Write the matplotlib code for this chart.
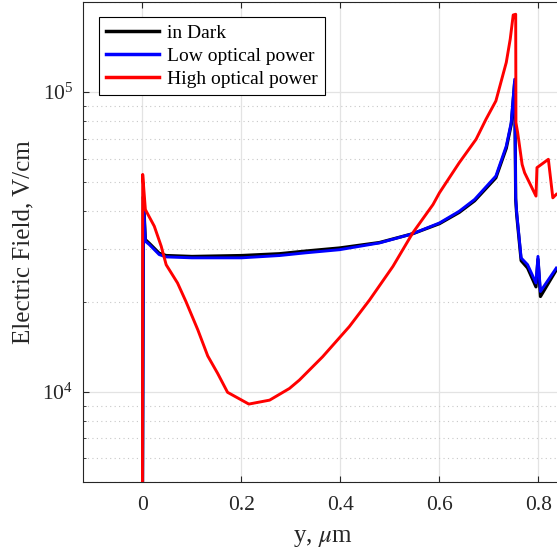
import numpy as np
import matplotlib
matplotlib.use('Agg')
import matplotlib.pyplot as plt

plt.rcParams['font.family'] = ['Liberation Serif', 'DejaVu Serif']
plt.rcParams['mathtext.fontset'] = 'stix'

# data (y in um, field in V/cm)
y_dark = [0.0, 0.002, 0.006, 0.014, 0.034, 0.048, 0.1, 0.2, 0.277, 0.33, 0.398, 0.479,
          0.546, 0.6, 0.640, 0.671, 0.714, 0.735, 0.745, 0.752, 0.754, 0.756, 0.765,
          0.778, 0.795, 0.799, 0.804, 0.836]
e_dark = [3000, 44800, 32200, 31300, 29000, 28500, 28300, 28500, 28900, 29500, 30200, 31500,
          33700, 36400, 39700, 43400, 51800, 65000, 78000, 108000, 43800, 39000, 27400,
          25900, 22400, 27700, 20800, 25500]

y_low = [0.0, 0.002, 0.006, 0.014, 0.034, 0.048, 0.1, 0.2, 0.277, 0.33, 0.398, 0.479,
         0.546, 0.6, 0.640, 0.671, 0.714, 0.735, 0.745, 0.752, 0.754, 0.756, 0.765,
         0.778, 0.795, 0.799, 0.804, 0.836]
e_low = [3000, 44400, 31800, 31000, 28700, 28200, 28000, 28000, 28500, 29100, 29800, 31400,
         33700, 36600, 40050, 43850, 52500, 66100, 79200, 110500, 44400, 39700, 27970,
         26560, 23070, 28310, 21620, 25880]

y_high = [0.0, 0.0006, 0.006, 0.024, 0.038, 0.048, 0.071, 0.088, 0.112, 0.132, 0.152,
          0.172, 0.215, 0.257, 0.297, 0.317, 0.364, 0.418, 0.459, 0.506, 0.546, 0.587,
          0.6, 0.640, 0.674, 0.694, 0.714, 0.735, 0.743, 0.749, 0.754, 0.7545, 0.758,
          0.767, 0.772, 0.795, 0.797, 0.820, 0.829, 0.836]
e_high = [3000, 53150, 40560, 35700, 30600, 26550, 23070, 20000, 16090, 13170, 11520,
          9960, 9100, 9380, 10260, 10940, 13090, 16510, 20270, 26210, 33900, 42170,
          46150, 58160, 69640, 81200, 93500, 125700, 150500, 181000, 182000, 79100, 73260,
          57380, 53850, 45000, 56000, 59700, 44400, 45600]

labels = ['in Dark', 'Low optical power', 'High optical power']

fig = plt.figure(figsize=(5.57, 5.53), dpi=100)
ax = fig.add_axes([0.149, 0.1284, 0.9066, 0.868])

ax.plot(y_dark, e_dark, color='black', lw=2.3, label=labels[0])
ax.plot(y_low, e_low, color='blue', lw=2.1, label=labels[1])
ax.plot(y_high, e_high, color='red', lw=2.1, label=labels[2])

ax.set_yscale('log')
ax.set_xlim(-0.12, 0.9)
ax.set_ylim(5e3, 2e5)
ax.set_xticks([0, 0.2, 0.4, 0.6, 0.8])
ax.set_xticklabels(['0', '0.2', '0.4', '0.6', '0.8'])

ax.grid(True, which='major', color='#e3e3e3', lw=0.9, ls='-')
ax.grid(True, which='minor', axis='y', color='#c8c8c8', lw=0.8, ls=(0, (1, 3)))
ax.set_axisbelow(True)

ax.tick_params(which='both', direction='in', top=True, right=True, colors='#262626',
               labelsize=15.5, labelcolor='#262626')
ax.tick_params(which='minor', length=2.5)
ax.tick_params(which='major', length=4)
ax.tick_params(axis='x', pad=10)
ax.tick_params(axis='y', pad=7)
for s in ax.spines.values():
    s.set_color('#262626')
    s.set_linewidth(0.8)

ax.set_xlabel(r'y, $\mu$m', fontsize=18, color='#262626')
ax.set_ylabel('Electric Field, V/cm', fontsize=18, color='#262626')
ax.xaxis.set_label_coords(0.474, -0.093)
ax.yaxis.set_label_coords(-0.097, 0.5)

leg = ax.legend(loc='upper left', bbox_to_anchor=(0.0317, 0.969), borderaxespad=0,
                fontsize=14, fancybox=False, framealpha=1, edgecolor='black',
                handlelength=2.7, handletextpad=0.4, labelspacing=0.28,
                borderpad=0.38)
leg.get_frame().set_linewidth(0.8)
for line in leg.get_lines():
    line.set_linewidth(2.5)

fig.savefig('out.png', dpi=100)
